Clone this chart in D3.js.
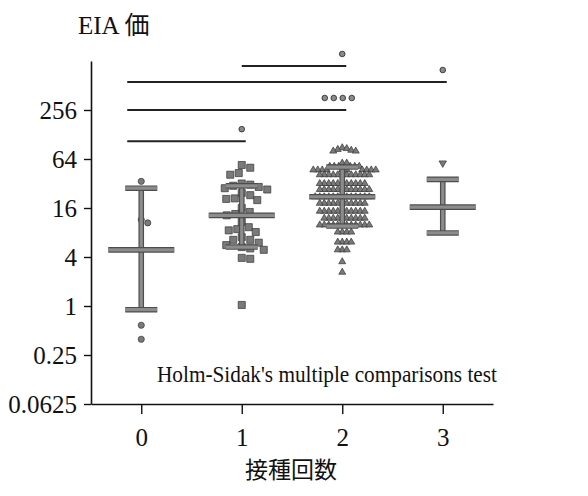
<!DOCTYPE html>
<html>
<head>
<meta charset="utf-8">
<script src="https://cdn.jsdelivr.net/npm/d3@7"></script>
<style>
  body { margin: 0; background: #fff; }
  text { font-family: "Liberation Serif", "Noto Sans CJK JP", serif; fill: #111; }
</style>
</head>
<body>
<div id="chart"></div>
<script>
// groups (number of doses)
var groups = [0, 1, 2, 3]

// individual EIA values per group
var dose0 = [34, 11.5, 10.5, 0.58, 0.39]
var dose1 = [54, 50, 43, 41,
             32, 31, 30, 29, 28, 27,
             24.5, 23, 21, 20.7, 20,
             16, 14.3, 13.5, 13,
             10.8, 9.3, 8.8, 8.5, 8.1,
             7, 6.5, 6.5, 6, 5.6, 5.3, 5.1, 4.9,
             3.9, 3.8, 1.03]
var dose2 = [88, 84, 80, 80, 82, 86,
             57, 57,
             52, 52, 52, 52, 52, 52,
             47, 47, 47, 47, 47, 47, 47, 47, 47, 47,
             41, 41, 41, 41, 41, 41, 41, 41, 41, 41, 41, 41,
             32, 32, 32, 32, 32, 32, 32, 32, 32, 32, 32,
             27, 27, 27, 27, 27, 27, 27, 27, 27, 27, 27, 27,
             22, 22, 22, 22, 22, 22, 22, 22, 22, 22, 22, 22, 22,
             18.3, 18.3, 18.3, 18.3, 18.3, 18.3, 18.3, 18.3, 18.3, 18.3, 18.3,
             14.6, 14.6, 14.6, 14.6, 14.6, 14.6, 14.6, 14.6, 14.6, 14.6, 14.6,
             12, 12, 12, 12, 12, 12, 12, 12, 12, 12,
             9.9, 9.9, 9.9, 9.9, 9.9, 9.9, 9.9, 9.9, 9.9, 9.9, 9.9, 9.9,
             8.1, 8.1, 8.1, 8.1,
             6.1, 6.1, 6.1, 6.1,
             4.9, 4.9, 4.9,
             3.5, 2.6]
var dose3 = [57, 15.5]

// mean and error bar ends per group
var groupMean = [4.9, 13, 22, 16.4]
var groupLow = [0.9, 5.3, 9.6, 7.9]
var groupHigh = [28, 30, 51, 36]

// pairwise comparisons (Holm-Sidak)
var compFrom = [0, 0, 0, 1]
var compTo = [1, 2, 3, 2]
var compStars = [1, 4, 1, 1]
var compLevel = [106, 256, 565, 890]

var yTicks = [0.0625, 0.25, 1, 4, 16, 64, 256]

var width = 588,
    height = 496

var svg = d3.select('#chart').append('svg')
    .attr('width', width)
    .attr('height', height)

var x = d3.scaleLinear()
    .domain([-0.5, 3.5])
    .range([91, 493])

var y = d3.scaleLog()
    .base(2)
    .domain([0.0625, 1024])
    .range([404, 61])

// axes
var y_axis = d3.axisLeft(y)
    .tickValues(yTicks)
    .tickFormat(function (d) { return String(d) })
    .tickSize(7)
    .tickSizeOuter(0)
    .tickPadding(7)

var x_axis = d3.axisBottom(x)
    .tickValues(groups)
    .tickFormat(d3.format('d'))
    .tickSize(10)
    .tickSizeOuter(0)
    .tickPadding(14)

var gy = svg.append('g')
    .attr('transform', 'translate(' + x.range()[0] + ',0)')
    .call(y_axis)

var gx = svg.append('g')
    .attr('transform', 'translate(0,' + y.range()[0] + ')')
    .call(x_axis)

svg.selectAll('.domain').attr('stroke', '#111').attr('stroke-width', 1.6)
svg.selectAll('.tick line').attr('stroke', '#111').attr('stroke-width', 1.4)
svg.selectAll('.tick text')
    .style('font-size', '25px')
    .style('font-family', '"Liberation Serif", serif')
    .attr('fill', '#111')

// beeswarm placement
function swarm(vals, d) {
    var placed = []
    var pts = vals.map(function (v) { return { v: v, py: y(v) } })
        .sort(function (a, b) { return a.py - b.py })
    pts.forEach(function (p) {
        var best = null
        for (var k = 0; k < 400 && best === null; k++) {
            var cands = k === 0 ? [0] : [k * 0.5, -k * 0.5]
            for (var c = 0; c < cands.length; c++) {
                var ok = placed.every(function (q) {
                    var dx = q.dx - cands[c], dy = q.py - p.py
                    return dx * dx + dy * dy >= d * d
                })
                if (ok) { best = cands[c]; break }
            }
        }
        p.dx = best
        placed.push(p)
    })
    return placed
}

var series = [
    { values: dose0, shape: d3.symbolCircle, size: 30, rot: 0, gap: 7 },
    { values: dose1, shape: d3.symbolSquare, size: 50, rot: 0, gap: 8.5 },
    { values: dose2, shape: d3.symbolTriangle, size: 21, rot: 0, gap: 4.5 },
    { values: dose3, shape: d3.symbolTriangle, size: 24, rot: 180, gap: 7 }
]

// error bars and mean lines (double stroke for the printed look)
function bar(g, x1, y1, x2, y2) {
    g.append('line').attr('x1', x1).attr('y1', y1).attr('x2', x2).attr('y2', y2)
        .attr('stroke', '#4d4d4d').attr('stroke-width', 5.6).attr('stroke-linecap', 'butt')
    g.append('line').attr('x1', x1).attr('y1', y1).attr('x2', x2).attr('y2', y2)
        .attr('stroke', '#8c8c8c').attr('stroke-width', 3.2).attr('stroke-linecap', 'butt')
}

series.forEach(function (s, i) {
    var g = svg.append('g').attr('class', 'group')
    var cx = x(groups[i])
    var pts = swarm(s.values, s.gap)

    g.selectAll('path.pt')
        .data(pts)
        .enter().append('path')
        .attr('class', 'pt')
        .attr('d', d3.symbol().type(s.shape).size(s.size))
        .attr('transform', function (d) {
            return 'translate(' + (cx + d.dx) + ',' + d.py + ') rotate(' + s.rot + ')'
        })
        .attr('fill', '#7a7a7a')
        .attr('stroke', '#333')
        .attr('stroke-width', 0.7)

    var eb = svg.append('g').attr('class', 'errbar')
    bar(eb, cx, y(groupHigh[i]), cx, y(groupLow[i]))
    bar(eb, cx - 16, y(groupHigh[i]), cx + 16, y(groupHigh[i]))
    bar(eb, cx - 16, y(groupLow[i]), cx + 16, y(groupLow[i]))
    bar(eb, cx - 33, y(groupMean[i]), cx + 33, y(groupMean[i]))
})

// comparison brackets with significance marks
compFrom.forEach(function (f, i) {
    var ly = y(compLevel[i])
    var x1 = x(f) - (f === 0 ? 14 : 0)
    var x2 = x(compTo[i]) + 4
    svg.append('line')
        .attr('x1', x1).attr('x2', x2)
        .attr('y1', ly).attr('y2', ly)
        .attr('stroke', '#222')
        .attr('stroke-width', 2)
    var n = compStars[i]
    for (var k = 0; k < n; k++) {
        svg.append('circle')
            .attr('cx', x(compTo[i]) + (k - (n - 1) / 2) * 9 - (n > 1 ? 4 : 0))
            .attr('cy', ly - 12)
            .attr('r', 2.8)
            .attr('fill', '#8a8a8a')
            .attr('stroke', '#333')
            .attr('stroke-width', 0.9)
    }
})

// texts
svg.append('text')
    .attr('x', 78)
    .attr('y', 34)
    .style('font-size', '25px')
    .text('EIA 価')

svg.append('text')
    .attr('x', 157)
    .attr('y', 382)
    .attr('textLength', 340)
    .attr('lengthAdjust', 'spacingAndGlyphs')
    .style('font-size', '23px')
    .text("Holm-Sidak's multiple comparisons test")

svg.append('text')
    .attr('x', 291)
    .attr('y', 478)
    .attr('text-anchor', 'middle')
    .style('font-size', '23px')
    .text('接種回数')
</script>
</body>
</html>
